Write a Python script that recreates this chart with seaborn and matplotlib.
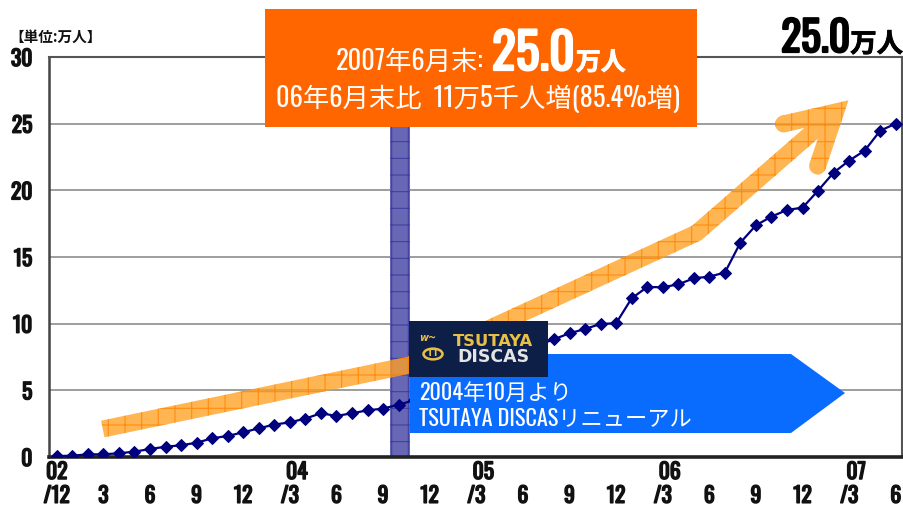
import numpy as np
import pandas as pd
import seaborn as sns
import matplotlib
matplotlib.use("Agg")
import matplotlib.pyplot as plt
import matplotlib.font_manager as fm
import matplotlib.patheffects as pe
from matplotlib.patches import Polygon, PathPatch, Rectangle, Circle
from matplotlib.path import Path
from matplotlib.transforms import IdentityTransform

# ---------------- data ----------------
months = [str(p) for p in pd.period_range("2002-12", "2007-06", freq="M")]
members = [0.07, 0.1, 0.2, 0.2, 0.28, 0.4, 0.6, 0.77, 0.88, 1.07,
           1.4, 1.58, 1.85, 2.15, 2.43, 2.6, 2.88, 3.28, 3.08, 3.28,
           3.5, 3.63, 3.93, 4.25, 4.7, 5.2, 5.75, 6.3, 6.9, 7.45,
           7.95, 8.4, 8.83, 9.28, 9.6, 9.98, 10.03, 11.9, 12.75, 12.73,
           12.95, 13.4, 13.53, 13.83, 16.08, 17.38, 18.03, 18.53, 18.7, 19.98,
           21.33, 22.23, 22.98, 24.48, 25.0]
month_ticks = list(range(0, 55, 3))
month_labels = ["/12", "3", "6", "9", "12", "/3", "6", "9", "12", "/3",
                "6", "9", "12", "/3", "6", "9", "12", "/3", "6"]
year_pos = [0, 15, 27, 39, 51]
year_labels = ["02", "04", "05", "06", "07"]
y_ticks = [0, 5, 10, 15, 20, 25, 30]
renewal_month = "2004/10"
arrow_shaft = [(2.96, 2.10), (22.72, 6.90), (41.18, 16.80), (50.13, 25.88)]
arrow_head = [(46.78, 24.98), (50.13, 25.88), (48.97, 21.83)]

# ---------------- style ----------------
sns.set_theme(style="white")
names = {f.name for f in fm.fontManager.ttflist}
NARROW = "DejaVu Sans"
for cand in ["Oswald", "IBM Plex Sans Condensed", "Liberation Sans Narrow"]:
    if cand in names:
        NARROW = cand
        break
CJK = "Noto Sans CJK JP"
MIX = [NARROW, CJK, "DejaVu Sans"]
plt.rcParams["font.family"] = MIX
plt.rcParams["hatch.linewidth"] = 0.8

def bold_fx(color, lw=1.0):
    return [pe.withStroke(linewidth=lw, foreground=color)]

W, H = 904, 511
fig = plt.figure(figsize=(W / 100, H / 100), dpi=100)
fig.patch.set_facecolor("white")
ax = fig.add_axes([49 / W, (H - 457) / H, 853 / W, 400 / H])

def fx(x):
    return x / W

def fy(y):
    return 1 - y / H

df = pd.DataFrame({"idx": np.arange(len(members)), "month": months, "members": members})

ax.set_xlim(-0.5, 54.4)
ax.set_ylim(0, 30)

# grid
ax.set_yticks(y_ticks)
ax.yaxis.grid(True, color="#8c8c8c", lw=1.2, zorder=0)
ax.xaxis.grid(False)
ax.set_axisbelow(True)

# renewal shaded band
ri = months.index(renewal_month.replace("/", "-"))
ax.axvspan(ri - 0.57, ri + 0.76, facecolor="#6767B5", edgecolor="#3F3F9E",
           hatch="+", lw=0, zorder=1)

# orange trend arrow (built in display coordinates from data waypoints)
def to_disp(pts):
    return ax.transData.transform(np.asarray(pts, float))

def ccw(poly):
    x, y = poly[:, 0], poly[:, 1]
    area = 0.5 * np.sum(x * np.roll(y, -1) - np.roll(x, -1) * y)
    return poly if area > 0 else poly[::-1]

def stroke_poly(pts, hw):
    pts = np.asarray(pts, float)
    n = len(pts)
    d = np.diff(pts, axis=0)
    d /= np.linalg.norm(d, axis=1)[:, None]
    nrm = np.stack([-d[:, 1], d[:, 0]], axis=1)
    left, right = [], []
    for i in range(n):
        if i == 0:
            m, s = nrm[0], 1.0
        elif i == n - 1:
            m, s = nrm[-1], 1.0
        else:
            m = nrm[i - 1] + nrm[i]
            m = m / np.linalg.norm(m)
            s = 1.0 / np.dot(m, nrm[i])
        left.append(pts[i] + m * hw * s)
        right.append(pts[i] - m * hw * s)
    return ccw(np.array(left + right[::-1]))

def circle_poly(c, r, n=40):
    t = np.linspace(0, 2 * np.pi, n, endpoint=False)
    return np.stack([c[0] + r * np.cos(t), c[1] + r * np.sin(t)], axis=1)

hw = 8.5
shaft = to_disp(arrow_shaft)
head = to_disp(arrow_head)
polys = [stroke_poly(shaft, hw), stroke_poly(head, hw),
         circle_poly(head[0], hw), circle_poly(head[2], hw)]
verts, codes = [], []
for p in polys:
    verts.extend(list(p) + [p[0]])
    codes.extend([Path.MOVETO] + [Path.LINETO] * (len(p) - 1) + [Path.CLOSEPOLY])
arrow = PathPatch(Path(np.array(verts), codes), facecolor="#FFA020", edgecolor="#FF8000",
                  hatch="+", lw=0, alpha=0.78, transform=IdentityTransform(), zorder=2)
ax.add_patch(arrow)

# data line
sns.lineplot(data=df, x="idx", y="members", marker="D", markersize=6.5, color="#00007F",
             markeredgecolor="#00007F", linewidth=1.6, ax=ax, zorder=5, legend=False)
ax.set_xlabel("")
ax.set_ylabel("")

# spines
for side, lw, col in [("bottom", 2.6, "#222222"), ("left", 1.8, "#444444"),
                      ("top", 1.5, "#555555"), ("right", 1.5, "#555555")]:
    ax.spines[side].set_visible(True)
    ax.spines[side].set_linewidth(lw)
    ax.spines[side].set_color(col)

# ticks
ax.set_xticks(month_ticks)
ax.set_xticklabels(month_labels)
ax.set_xticks(np.arange(-0.5, 54, 3), minor=True)
ax.tick_params(axis="x", which="major", length=0, pad=20, labelsize=15.5)
ax.tick_params(axis="x", which="minor", direction="in", length=4.5, width=1.5, color="#333333")
ax.set_yticks([12, 18, 24], minor=True)
ax.tick_params(axis="y", which="major", length=0, pad=12, labelsize=15.5)
ax.tick_params(axis="y", which="minor", direction="in", length=4.5, width=1.2, color="#333333")
for lab in ax.get_xticklabels() + ax.get_yticklabels():
    lab.set_family(NARROW)
    lab.set_weight("bold")
    lab.set_color("#111111")
    lab.set_path_effects(bold_fx("#111111", 1.1))

for p, lab in zip(year_pos, year_labels):
    off = 0 if p == 0 else 0.45
    ax.text(p + off, (457 - 479) / 400, lab, transform=ax.get_xaxis_transform(),
            ha="center", va="baseline", fontsize=15.5, weight="bold", family=NARROW,
            color="#111111", path_effects=bold_fx("#111111", 1.1))

# blue renewal banner
banner = Polygon([(fx(410), fy(354)), (fx(791), fy(354)), (fx(845), fy(393)),
                  (fx(791), fy(433)), (fx(410), fy(433))], closed=True,
                 facecolor="#0A6CFF", edgecolor="none", transform=fig.transFigure,
                 zorder=7, clip_on=False)
ax.add_patch(banner)
ax.text(fx(419), fy(393), "2004年10月より", transform=fig.transFigure, ha="left", va="center",
        fontsize=16, color="white", family=MIX, zorder=8)
ax.text(fx(419), fy(418), "TSUTAYA DISCASリニューアル", transform=fig.transFigure, ha="left",
        va="center", fontsize=16, color="white", family=MIX, zorder=8)

# logo box
ax.add_patch(Rectangle((fx(409), fy(377)), (548 - 409) / W, (377 - 321) / H,
                       facecolor="#0E1F47", edgecolor="none", transform=fig.transFigure,
                       zorder=8, clip_on=False))
ax.add_patch(Circle((fx(433), fy(354)), 9.5 / W, facecolor="none", edgecolor="#E9C046", lw=1.8,
                    transform=fig.transFigure, zorder=9, clip_on=False))
ax.text(fx(433), fy(354), "TT", transform=fig.transFigure, ha="center", va="center",
        fontsize=6.5, weight="bold", color="#E9C046", family="DejaVu Sans", zorder=9)
ax.text(fx(428), fy(338), "w~", transform=fig.transFigure, ha="center", va="center",
        fontsize=7, weight="bold", color="#E9C046", family="DejaVu Sans", style="italic", zorder=9)
ax.text(fx(493), fy(341), "TSUTAYA", transform=fig.transFigure, ha="center", va="center",
        fontsize=11.8, weight="bold", color="#E9C046", family="DejaVu Sans", zorder=9)
ax.text(fx(493), fy(357), "DISCAS", transform=fig.transFigure, ha="center", va="center",
        fontsize=12.5, weight="bold", color="#E4E4E4", family="DejaVu Sans", zorder=9)

# orange headline box (figure level)
fig.add_artist(Rectangle((fx(265), fy(127)), (697 - 265) / W, (127 - 9) / H,
                         facecolor="#FF6600", edgecolor="none", transform=fig.transFigure,
                         zorder=20))

renderer = fig.canvas.get_renderer()

def chain(pieces, baseline, center=None, right=None, gaps=None, color="white", z=21):
    texts = []
    for s, size, weight, fam, stroke in pieces:
        t = fig.text(0, 0, s, fontsize=size, weight=weight, family=fam, color=color,
                     ha="left", va="baseline", zorder=z)
        if stroke:
            t.set_path_effects(bold_fx(color, stroke))
        texts.append(t)
    widths = [t.get_window_extent(renderer).width for t in texts]
    gaps = gaps or [0] * (len(texts) - 1)
    total = sum(widths) + sum(gaps)
    x = center - total / 2 if center is not None else right - total
    for i, (t, w) in enumerate(zip(texts, widths)):
        t.set_position((fx(x), fy(baseline)))
        x += w + (gaps[i] if i < len(gaps) else 0)

chain([("2007年6月末:", 19, "normal", MIX, 0), ("25.0", 36, "bold", [NARROW], 1.6),
       ("万人", 18, "bold", [CJK], 0.6)], baseline=70, center=481, gaps=[8, 1])
chain([("06年6月末比  11万5千人増(85.4%増)", 19, "normal", MIX, 0)], baseline=107, center=478)

# top-right total
chain([("25.0", 30, "bold", [NARROW], 1.6), ("万人", 19, "bold", [CJK], 0.6)], baseline=52,
      right=903, color="black", z=21)

# unit label
fig.text(fx(9), fy(37), "【単位:万人】", fontsize=10.5, weight="bold", family=[CJK],
         ha="left", va="center", color="#111111")

fig.savefig("out.png", dpi=100)
